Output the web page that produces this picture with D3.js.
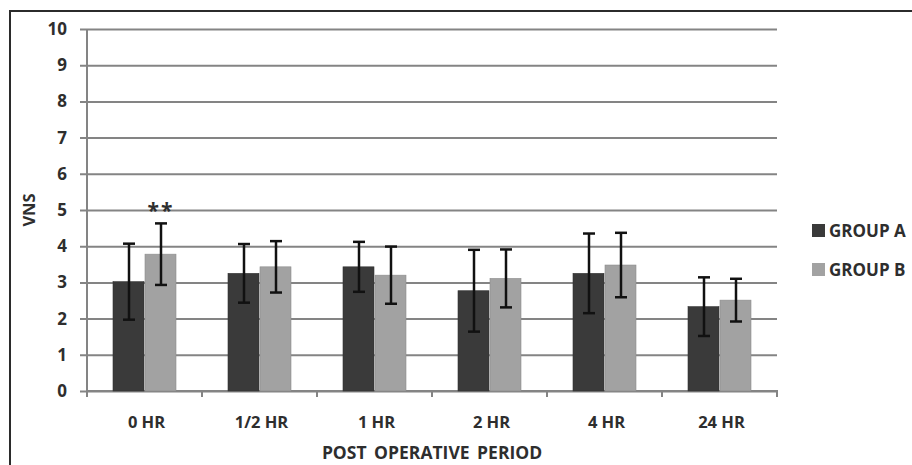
<!DOCTYPE html>
<html><head><meta charset="utf-8">
<script src="https://cdn.jsdelivr.net/npm/d3@7"></script>
<style>
body{margin:0;background:#fff;}
svg text{font-family:"Open Sans","Noto Sans",sans-serif;font-weight:bold;fill:#2e2e2e;}
</style></head>
<body><svg id="c" width="912" height="465"></svg>
<script>
const categories = ["0 HR","1/2 HR","1 HR","2 HR","4 HR","24 HR"];
const groups = ["GROUP A","GROUP B"];
const groupA = [3.02,3.25,3.43,2.77,3.25,2.33];
const groupB = [3.78,3.43,3.20,3.11,3.48,2.51];
const errA = [1.05,0.81,0.69,1.13,1.10,0.81];
const errB = [0.85,0.71,0.79,0.80,0.89,0.59];
const yTicks = [0,1,2,3,4,5,6,7,8,9,10];
const colors = ["#3a3a3a","#a2a2a2"];
const annotations = [{cat:"0 HR", group:"GROUP B", text:"**"}];

const svg = d3.select("#c");
svg.append("path").attr("d","M10,465 L10,11 L912,11").attr("fill","none").attr("stroke","#2b2b2b").attr("stroke-width",2);

const y = d3.scaleLinear().domain([0,10]).range([391,29]);
const x = d3.scaleBand().domain(categories).range([87,777]).padding(0);
const xg = d3.scaleBand().domain(groups).range([26, 90]).padding(0);

const yAxis = d3.axisLeft(y).tickValues(yTicks).tickSize(-(777-87)).tickSizeOuter(0).tickPadding(20);
const gy = svg.append("g").attr("transform","translate(87,0)").call(yAxis);
gy.attr("font-size",null).attr("font-family",null);
gy.select(".domain").remove();
gy.selectAll(".tick line").attr("x1",-7).attr("stroke","#848484").attr("stroke-width",2);
gy.selectAll(".tick text").style("font-size","17px").style("fill","#2e2e2e");
svg.append("line").attr("x1",87).attr("x2",87).attr("y1",29).attr("y2",392).attr("stroke","#848484").attr("stroke-width",2);

const gx = svg.append("g").attr("transform","translate(0,391)");
gx.append("line").attr("x1",87).attr("x2",778).attr("stroke","#848484").attr("stroke-width",2);
const bounds = categories.map(c=>x(c)).concat([x.range()[1]]);
gx.selectAll("line.t").data(bounds).enter().append("line").attr("class","t")
  .attr("x1",d=>d).attr("x2",d=>d).attr("y1",0).attr("y2",6).attr("stroke","#848484").attr("stroke-width",2);
gx.selectAll("text").data(categories).enter().append("text")
  .attr("x",d=>x(d)+x.bandwidth()/2+2).attr("y",37).attr("text-anchor","middle").style("font-size","16.5px").text(d=>d);

const data = [];
categories.forEach((c,i)=>{
  data.push({cat:c,group:groups[0],v:groupA[i],e:errA[i],col:colors[0]});
  data.push({cat:c,group:groups[1],v:groupB[i],e:errB[i],col:colors[1]});
});
svg.append("g").selectAll("rect").data(data).enter().append("rect")
  .attr("x",d=>x(d.cat)+xg(d.group)).attr("width",xg.bandwidth()-1)
  .attr("y",d=>y(d.v)).attr("height",d=>y(0)-y(d.v)).attr("fill",d=>d.col)
  .attr("stroke",d=>d3.color(d.col).darker(0.4)).attr("stroke-width",0.6);

const eg = svg.append("g").attr("stroke","#111").attr("stroke-width",2.5);
data.forEach(d=>{
  const cx = x(d.cat)+xg(d.group)+xg.bandwidth()/2;
  eg.append("line").attr("x1",cx).attr("x2",cx).attr("y1",y(d.v+d.e)).attr("y2",y(d.v-d.e));
  eg.append("line").attr("x1",cx-6).attr("x2",cx+6).attr("y1",y(d.v+d.e)).attr("y2",y(d.v+d.e));
  eg.append("line").attr("x1",cx-6).attr("x2",cx+6).attr("y1",y(d.v-d.e)).attr("y2",y(d.v-d.e));
});

annotations.forEach(a=>{
  const d = data.find(o=>o.cat===a.cat && o.group===a.group);
  svg.append("text").attr("x",x(a.cat)+xg(a.group)+xg.bandwidth()/2).attr("y",y(d.v+d.e)-5)
    .attr("text-anchor","middle").style("font-size","21px").attr("letter-spacing",2).text(a.text);
});

svg.append("text").attr("transform","translate(35,210) rotate(-90)").attr("text-anchor","middle").style("font-size","16.5px").text("VNS");
svg.append("text").attr("x",432).attr("y",459).attr("text-anchor","middle").style("font-size","17.5px").attr("word-spacing",3).text("POST OPERATIVE PERIOD");

const lg = svg.append("g");
groups.forEach((g,i)=>{
  const yy = 224 + i*39;
  lg.append("rect").attr("x",812).attr("y",yy).attr("width",13).attr("height",13).attr("fill",colors[i]);
  lg.append("text").attr("x",829).attr("y",yy+12.5).style("font-size","17px").text(g);
});
</script></body></html>
